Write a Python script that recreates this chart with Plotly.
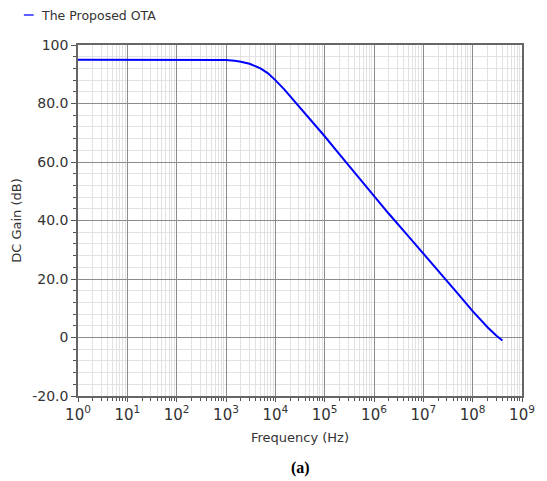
import plotly.graph_objects as go

# Data
freq_hz = [1, 10, 100, 500, 1000, 1500, 2000, 3000, 4000, 5000, 7000,
           1e4, 1.5e4, 2e4, 3e4, 5e4, 7e4, 1e5, 2e5, 5e5, 1e6, 2e6, 5e6,
           1e7, 2e7, 5e7, 1e8, 1.5e8, 2e8, 3e8, 4e8]
gain_db = [95.0, 95.0, 95.0, 95.0, 94.9, 94.6, 94.3, 93.6, 92.8, 92.0, 90.4,
           88.0, 84.9, 82.5, 79.0, 74.7, 71.8, 68.8, 62.6, 54.6, 48.2, 42.3, 34.6,
           28.8, 22.9, 15.0, 9.0, 5.7, 3.5, 0.7, -1.0]

y_tickvals = [-20, 0, 20, 40, 60, 80, 100]
y_ticktext = ["-20.0", "0", "20.0", "40.0", "60.0", "80.0", "100"]
x_exponents = [0, 1, 2, 3, 4, 5, 6, 7, 8, 9]
x_tickvals = [10 ** e for e in x_exponents]
x_ticktext = [f"10<sup>{e}</sup>" for e in x_exponents]
x_minor_vals = [m * 10 ** e for e in x_exponents[:-1] for m in range(2, 10)]

series_name = "The Proposed OTA"

W, H = 547, 481
L, R, T, B = 78, 18, 45, 85
pw = W - L - R
ph = H - T - B

fig = go.Figure()
fig.add_trace(go.Scatter(x=freq_hz, y=gain_db, mode="lines", name=series_name,
                         line=dict(color="#0000ff", width=2),
                         showlegend=False))

font_main = "DejaVu Sans, Verdana, sans-serif"

fig.update_layout(
    width=W, height=H,
    margin=dict(l=L, r=R, t=T, b=B, pad=0),
    paper_bgcolor="white", plot_bgcolor="white",
    font=dict(family=font_main, size=13, color="#333333"),
    xaxis=dict(
        type="log", range=[0, 9],
        tickvals=x_tickvals, ticktext=x_ticktext,
        tickfont=dict(size=15, color="#333333"),
        showgrid=True, gridcolor="#8c8c8c", gridwidth=1,
        ticks="outside", ticklen=4, tickcolor="#555555",
        showline=True, linecolor="#666666", linewidth=1.5, mirror=True,
        zeroline=False,
        minor=dict(tickvals=x_minor_vals, showgrid=True, gridcolor="#e2e2e2",
                   gridwidth=1, ticks="outside", ticklen=3, tickcolor="#555555"),
        title=dict(text="Frequency (Hz)", font=dict(size=13, color="#333333"), standoff=10),
    ),
    yaxis=dict(
        range=[-20, 100],
        tickvals=y_tickvals, ticktext=y_ticktext,
        tickfont=dict(size=14, color="#333333"),
        showgrid=True, gridcolor="#8c8c8c", gridwidth=1,
        ticks="outside", ticklen=5, tickcolor="#555555",
        showline=True, linecolor="#666666", linewidth=1.5, mirror=True,
        zeroline=False,
        minor=dict(dtick=4, showgrid=True, gridcolor="#e2e2e2", gridwidth=1,
                   ticks="outside", ticklen=3, tickcolor="#555555"),
        title=dict(text="DC Gain (dB)", font=dict(size=13, color="#333333"), standoff=8),
    ),
)

# Legend-like label at top-left
def px_to_paper_x(px):
    return (px - L) / pw

def px_to_paper_y(py):
    return (H - B - py) / ph

fig.add_shape(type="line", xref="paper", yref="paper",
              x0=px_to_paper_x(23), x1=px_to_paper_x(33),
              y0=px_to_paper_y(15), y1=px_to_paper_y(15),
              line=dict(color="#6060ff", width=2))
fig.add_annotation(text=series_name, xref="paper", yref="paper",
                   x=px_to_paper_x(38), y=px_to_paper_y(15),
                   xanchor="left", yanchor="middle", showarrow=False,
                   font=dict(family=font_main, size=12.5, color="#333333"))
fig.add_annotation(text="<b>(a)</b>", xref="paper", yref="paper",
                   x=0.5, y=px_to_paper_y(468),
                   xanchor="center", yanchor="middle", showarrow=False,
                   font=dict(family="Liberation Serif, Times New Roman, serif", size=16, color="#000000"))

fig.write_html("out.html")
